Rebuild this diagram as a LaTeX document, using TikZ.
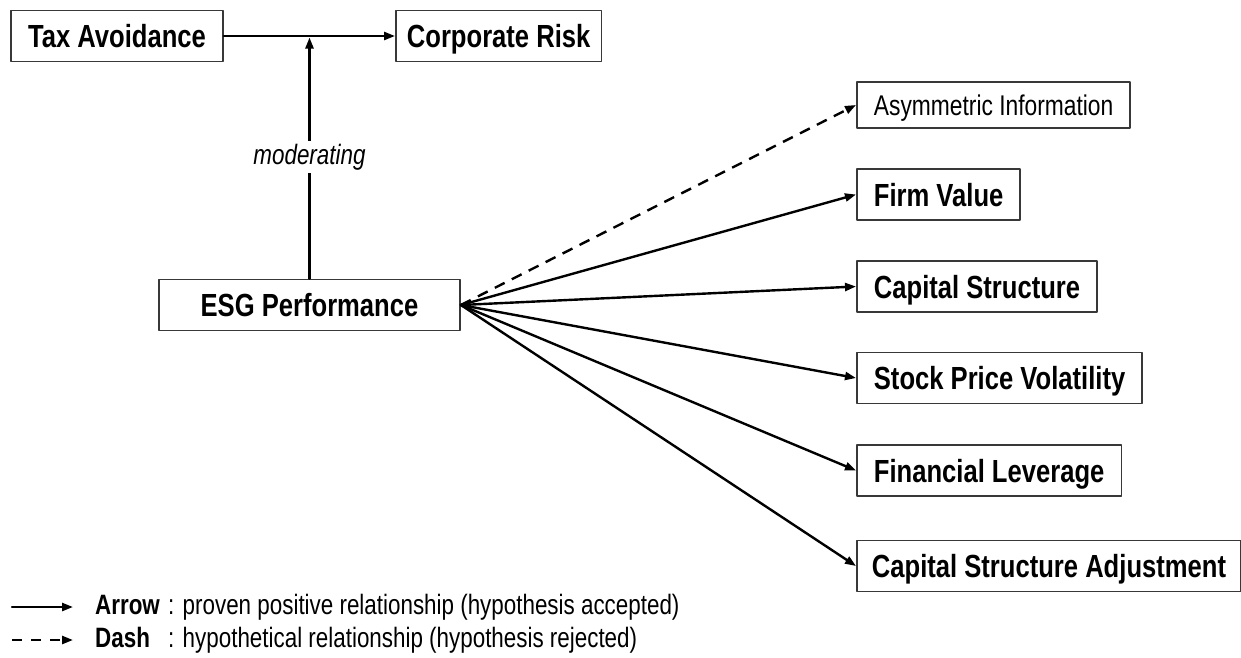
\documentclass[tikz,border=0pt]{standalone}
\usepackage{fontspec}
\setmainfont{Liberation Sans}[FakeStretch=0.8]
\usetikzlibrary{arrows.meta}

\begin{document}
\begin{tikzpicture}[yscale=-1, x=1pt, y=1pt, line join=round, line cap=round,
  box/.style={draw=boxline, line width=1.8pt, fill=white, inner xsep=17pt, inner ysep=0pt,
    text height=25pt, text depth=2pt, minimum height=51pt, font=\fontsize{32}{38}\selectfont\bfseries},
  thinbox/.style={box, minimum height=46pt, text height=22pt, text depth=2pt,
    font=\fontsize{28.5}{34}\selectfont},
  link/.style={color=layer0, line width=2.4pt, -{Triangle[length=11pt,width=8pt]}},
  hypo/.style={link, line cap=butt, dash pattern=on 11pt off 8pt},
  legend/.style={anchor=west, inner sep=0pt, font=\fontsize{28}{33}\selectfont}]
% Color definitions
\definecolor{layer0}{rgb}{0,0,0}
\definecolor{boxline}{rgb}{0.22,0.22,0.22}
% End of color definitions
\useasboundingbox (0,0) rectangle (1241,657);
\fill[white] (0,0) rectangle (1241,657);
\node[box] (tax) at (117,36) {Tax Avoidance};
\node[box, anchor=west, inner xsep=11pt] (risk) at (395,36) {Corporate Risk};
\node[box, minimum width=301pt] (esg) at (309.5,305) {ESG Performance};
\node[thinbox, anchor=west] (asym) at (856,105) {Asymmetric Information};
\node[box, anchor=west] (firm) at (856,194.5) {Firm Value};
\node[box, anchor=west] (cap) at (856,286.5) {Capital Structure};
\node[box, anchor=west] (stock) at (856,378) {Stock Price Volatility};
\node[box, anchor=west] (lev) at (856,470.5) {Financial Leverage};
\node[box, anchor=west, inner xsep=15pt] (adj) at (856,566) {Capital Structure Adjustment};
\coordinate (join) at (esg.north |- tax.east);
\draw[link] (tax) -- (risk);
\draw[link, shorten >=1.5pt] (esg) -- (join);
\node[fill=white, inner xsep=2pt, font=\fontsize{28}{33}\selectfont\itshape] (mod) at (309.5,157) {moderating};
\draw[hypo] (esg.east) -- (asym.west);
\draw[link] (esg.east) -- (firm.west);
\draw[link] (esg.east) -- (cap.west);
\draw[link] (esg.east) -- (stock.west);
\draw[link] (esg.east) -- (lev.west);
\draw[link] (esg.east) -- (adj.west);
% legend
\coordinate (solidA) at (12,607);
\coordinate (solidB) at (73,607);
\coordinate (dashA) at (12,640);
\coordinate (dashB) at (73,640);
\draw[link] (solidA) -- (solidB);
\draw[hypo, dash pattern=on 10pt off 9pt] (dashA) -- (dashB);
\node[legend] (solidtxt) at (95,607) {\makebox[73pt][l]{\textbf{Arrow}}: proven positive relationship (hypothesis accepted)};
\node[legend] (dashtxt) at (95,640) {\makebox[73pt][l]{\textbf{Dash}}: hypothetical relationship (hypothesis rejected)};
\end{tikzpicture}
\end{document}
